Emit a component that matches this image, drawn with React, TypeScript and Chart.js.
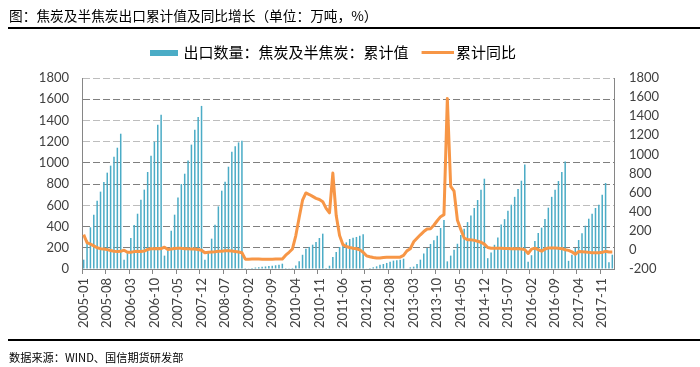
import React, { useEffect, useRef } from 'react';
import { Chart, registerables } from 'chart.js';

Chart.register(...registerables);

// ---------- data ----------
const START_YEAR = 2005;
const END_YEAR = 2018;
const END_MONTH = 2;

const categories: string[] = [];
for (let y = START_YEAR; y <= END_YEAR; y++) {
  for (let m = 1; m <= 12; m++) {
    if (y === END_YEAR && m > END_MONTH) break;
    categories.push(`${y}-${String(m).padStart(2, '0')}`);
  }
}

// 出口数量：焦炭及半焦炭：累计值 (万吨)
const bars2005 = [88, 270, 393, 512, 644, 729, 820, 908, 974, 1059, 1143, 1275];
const bars2006 = [88, 150, 292, 415, 521, 653, 748, 914, 1068, 1200, 1360, 1454];
const bars2007 = [126, 170, 361, 512, 673, 801, 898, 1022, 1172, 1313, 1432, 1537];
const bars2008 = [88, 160, 286, 418, 590, 738, 823, 964, 1105, 1156, 1193, 1209];
const bars2009 = [1, 3, 9, 14, 17, 22, 24, 28, 31, 35, 41, 50];
const bars2010 = [1, 3, 10, 33, 73, 134, 192, 208, 229, 254, 292, 333];
const bars2011 = [9, 31, 113, 160, 207, 226, 251, 283, 295, 302, 314, 327];
const bars2012 = [4, 10, 16, 25, 41, 47, 57, 69, 79, 82, 88, 97];
const bars2013 = [5, 16, 22, 47, 88, 145, 198, 236, 270, 314, 386, 462];
const bars2014 = [72, 126, 182, 238, 320, 380, 442, 504, 575, 650, 748, 851];
const bars2015 = [102, 155, 228, 297, 420, 470, 548, 606, 680, 754, 832, 985];
const bars2016 = [69, 130, 265, 339, 390, 472, 578, 680, 748, 829, 914, 1013];
const bars2017 = [77, 135, 198, 273, 337, 408, 474, 521, 575, 606, 700, 810];
const bars2018 = [63, 135];

// 累计同比 (%)
const yoy2005 = [160, 75, 60, 42, 22, 13, 10, 3, -6, -14, -18, -15];
const yoy2006 = [-3, -25, -25, -18, -15, -16, -12, 5, 12, 13, 15, 13];
const yoy2007 = [28, 5, 10, 15, 17, 16, 13, 11, 10, 9, 4, -3];
const yoy2008 = [-30, -25, -22, -20, -15, -13, -10, -8, -12, -17, -22, -30];
const yoy2009 = [-97, -97, -96, -96, -96, -97, -97, -97, -97, -96, -96, -96];
const yoy2010 = [-55, -25, 10, 150, 340, 520, 596, 580, 560, 540, 528, 505];
const yoy2011 = [435, 388, 805, 360, 150, 55, 35, 25, 18, 12, 0, -25];
const yoy2012 = [-62, -72, -80, -85, -85, -80, -77, -77, -77, -77, -76, -58];
const yoy2013 = [-10, 12, 85, 122, 158, 192, 219, 222, 258, 305, 348, 369];
const yoy2014 = [1585, 665, 615, 310, 215, 125, 107, 105, 100, 90, 80, 60];
const yoy2015 = [25, 18, 18, 17, 16, 15, 14, 13, 12, 11, 9, 3];
const yoy2016 = [-38, 8, 18, 2, -14, 10, 20, 20, 20, 18, 13, 2];
const yoy2017 = [-5, -20, -45, -18, -20, -22, -26, -30, -30, -30, -25, -15];
const yoy2018 = [-21, -21];

const barValues = [
  ...bars2005, ...bars2006, ...bars2007, ...bars2008, ...bars2009, ...bars2010, ...bars2011,
  ...bars2012, ...bars2013, ...bars2014, ...bars2015, ...bars2016, ...bars2017, ...bars2018,
];
const yoyValues = [
  ...yoy2005, ...yoy2006, ...yoy2007, ...yoy2008, ...yoy2009, ...yoy2010, ...yoy2011,
  ...yoy2012, ...yoy2013, ...yoy2014, ...yoy2015, ...yoy2016, ...yoy2017, ...yoy2018,
];

const BAR_LABEL = '出口数量：焦炭及半焦炭：累计值';
const LINE_LABEL = '累计同比';
const TITLE = '图：焦炭及半焦炭出口累计值及同比增长（单位：万吨，%）';
const SOURCE = '数据来源：WIND、国信期货研发部';

const LABEL_EVERY = 7;

// ---------- styles ----------
const BAR_COLOR = '#4BACC6';
const LINE_COLOR = '#F79646';
const AXIS_COLOR = '#868686';
const TICK_COLOR = '#404040';
const CJK = '"Noto Sans CJK SC", "Noto Sans", sans-serif';
const DARK_GRID = new Set([1600, 1000, 800, 400, 200]);

const PAD_RIGHT = 40;
const PLOT_LEFT = 82;
const PLOT_RIGHT = 614;
const PLOT_BOTTOM = 269;
const LEGEND_EXTRA = 8;

function makeBoxImg(): HTMLCanvasElement {
  const c = document.createElement('canvas');
  c.width = 36;
  c.height = 6;
  const g = c.getContext('2d')!;
  g.fillStyle = BAR_COLOR;
  g.fillRect(8, 0, 28, 6);
  return c;
}

function makeLineImg(): HTMLCanvasElement {
  const c = document.createElement('canvas');
  c.width = 42;
  c.height = 3;
  const g = c.getContext('2d')!;
  g.fillStyle = LINE_COLOR;
  g.fillRect(10, 0, 32, 3);
  return c;
}

const legendSpacer = {
  id: 'legendSpacer',
  afterInit(chart: any) {
    const lg = chart.legend;
    if (!lg) return;
    const orig = lg.fit;
    lg.fit = function () {
      orig.call(this);
      this.height += LEGEND_EXTRA;
    };
  },
};

const plainNumber = (v: any) => String(v);

export default function App() {
  const ref = useRef<HTMLCanvasElement>(null);

  useEffect(() => {
    if (!ref.current) return;
    const boxImg = makeBoxImg();
    const lineImg = makeLineImg();

    const chart = new Chart(ref.current, {
      type: 'bar',
      data: {
        labels: categories,
        datasets: [
          {
            type: 'bar',
            label: BAR_LABEL,
            data: barValues,
            backgroundColor: BAR_COLOR,
            barPercentage: 0.45,
            categoryPercentage: 1,
            yAxisID: 'y',
            order: 1,
          },
          {
            type: 'line',
            label: LINE_LABEL,
            data: yoyValues,
            borderColor: LINE_COLOR,
            backgroundColor: LINE_COLOR,
            borderWidth: 3,
            pointRadius: 0,
            tension: 0,
            fill: false,
            borderJoinStyle: 'round',
            yAxisID: 'y1',
            order: 0,
          },
        ],
      } as any,
      options: {
        responsive: false,
        maintainAspectRatio: false,
        animation: false,
        devicePixelRatio: 1,
        layout: { padding: { top: 37, right: PAD_RIGHT, left: 0, bottom: 0 } },
        font: { family: 'Lato' },
        plugins: {
          tooltip: { enabled: false },
          legend: {
            display: true,
            position: 'top',
            labels: {
              usePointStyle: true,
              pointStyleWidth: 32,
              padding: 8,
              color: '#333333',
              font: { family: CJK, size: 15 },
              generateLabels: () => [
                {
                  text: BAR_LABEL,
                  pointStyle: boxImg,
                  fillStyle: BAR_COLOR,
                  strokeStyle: BAR_COLOR,
                  lineWidth: 0,
                  hidden: false,
                  datasetIndex: 0,
                },
                {
                  text: LINE_LABEL,
                  pointStyle: lineImg,
                  fillStyle: LINE_COLOR,
                  strokeStyle: LINE_COLOR,
                  lineWidth: 0,
                  hidden: false,
                  datasetIndex: 1,
                },
              ],
            },
          },
        },
        scales: {
          x: {
            type: 'category',
            offset: true,
            afterFit: (s: any) => {
              s.height = 367 - PLOT_BOTTOM;
            },
            grid: {
              offset: true,
              drawOnChartArea: false,
              drawTicks: true,
              tickLength: 5,
              color: (c: any) => (c.index % LABEL_EVERY === 0 ? AXIS_COLOR : 'rgba(0,0,0,0)'),
            },
            border: { display: true, color: AXIS_COLOR, width: 1 },
            ticks: {
              autoSkip: false,
              maxRotation: 90,
              minRotation: 90,
              padding: 4,
              color: TICK_COLOR,
              font: { family: 'Lato', size: 13 },
              callback: function (this: any, val: any, idx: number) {
                return idx % LABEL_EVERY === 0 ? categories[idx] : '';
              },
            },
          },
          y: {
            position: 'left',
            min: 0,
            max: 1800,
            afterFit: (s: any) => {
              s.width = PLOT_LEFT;
            },
            ticks: {
              stepSize: 200,
              padding: 13,
              color: TICK_COLOR,
              font: { family: 'Lato', size: 13 },
              callback: plainNumber,
            },
            grid: {
              drawTicks: false,
              color: (c: any) => {
                const v = c.tick ? c.tick.value : undefined;
                if (v === undefined || v === 0) return 'rgba(0,0,0,0)';
                return DARK_GRID.has(v) ? '#7f7f7f' : '#bdbdbd';
              },
            },
            border: { display: true, color: AXIS_COLOR, width: 1, dash: [7, 3] },
          },
          y1: {
            position: 'right',
            min: -200,
            max: 1800,
            afterFit: (s: any) => {
              s.width = 700 - PAD_RIGHT - PLOT_RIGHT;
            },
            ticks: {
              stepSize: 200,
              padding: 15,
              color: TICK_COLOR,
              font: { family: 'Lato', size: 13 },
              callback: plainNumber,
            },
            grid: { display: false, drawTicks: false },
            border: { display: true, color: AXIS_COLOR, width: 1 },
          },
        },
      } as any,
      plugins: [legendSpacer],
    });

    return () => chart.destroy();
  }, []);

  return (
    <div
      style={{
        position: 'absolute',
        left: 0,
        top: 0,
        width: 700,
        height: 367,
        background: '#ffffff',
        overflow: 'hidden',
      }}
    >
      <canvas
        ref={ref}
        width={700}
        height={367}
        style={{ position: 'absolute', left: 0, top: 0, width: 700, height: 367 }}
      />
      <div
        style={{
          position: 'absolute',
          left: 9,
          top: 6,
          fontFamily: CJK,
          fontSize: 13.7,
          lineHeight: '18px',
          color: '#000',
          whiteSpace: 'nowrap',
        }}
      >
        {TITLE}
      </div>
      <div style={{ position: 'absolute', left: 8, top: 27, width: 692, height: 2, background: '#000' }} />
      <div style={{ position: 'absolute', left: 8, top: 339, width: 692, height: 2, background: '#000' }} />
      <div
        style={{
          position: 'absolute',
          left: 9,
          top: 350,
          fontFamily: CJK,
          fontSize: 11.2,
          lineHeight: '14px',
          color: '#000',
          whiteSpace: 'nowrap',
        }}
      >
        {SOURCE}
      </div>
    </div>
  );
}
